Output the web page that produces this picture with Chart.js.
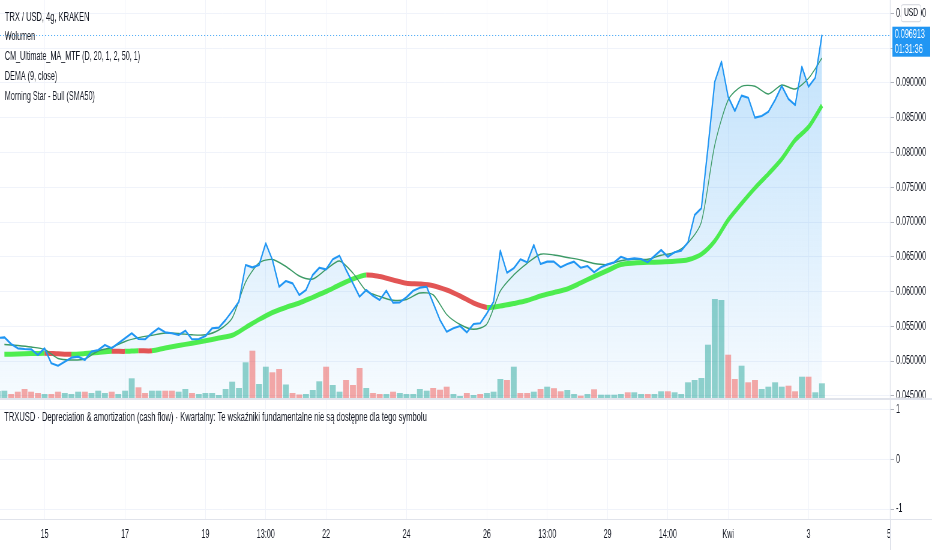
<!DOCTYPE html>
<html>
<head>
<meta charset="utf-8">
<script src="https://cdn.jsdelivr.net/npm/chart.js@4.4.1/dist/chart.umd.min.js"></script>
<style>
  html, body { margin: 0; padding: 0; background: #fff; overflow: hidden; }
  #wrap { position: relative; width: 932px; height: 550px; }
  canvas { position: absolute; left: 0; display: block; }
  .sep { position: absolute; background: #e0e3eb; }
</style>
</head>
<body>
<div id="wrap">
  <canvas id="pricePane" width="1553" height="400" style="top:0;width:932px;height:400px"></canvas>
  <canvas id="lowerPane" width="1553" height="150" style="top:400px;width:932px;height:150px"></canvas>
  <div class="sep" style="left:0;top:398px;width:932px;height:2px"></div>
  <div class="sep" style="left:0;top:519px;width:932px;height:1px"></div>
  <div class="sep" style="left:890px;top:519px;width:1px;height:31px"></div>
</div>
<script>
// 4h candles, index 0 = 13 Mar 21:00, one step = 4 hours
const closes = [
  0.05333, 0.05343, 0.05247, 0.05185, 0.05175, 0.05171, 0.05089, 0.05185, 0.04970, 0.04935,
  0.04993, 0.05050, 0.05065, 0.05017, 0.05137, 0.05161, 0.05233, 0.05185, 0.05257, 0.05329,
  0.05401, 0.05319, 0.05315, 0.05401, 0.05473, 0.05415, 0.05401, 0.05376, 0.05438, 0.05315,
  0.05319, 0.05362, 0.05473, 0.05481, 0.05592, 0.05721, 0.05855, 0.06382, 0.06349, 0.06382,
  0.06694, 0.06454, 0.06070, 0.06152, 0.06119, 0.05951, 0.06023, 0.06239, 0.06343, 0.06320,
  0.06464, 0.06516, 0.06310, 0.06119, 0.05927, 0.06023, 0.05941, 0.05879, 0.06013, 0.05841,
  0.05846, 0.05918, 0.06013, 0.06056, 0.06070, 0.05832, 0.05592, 0.05424, 0.05473, 0.05506,
  0.05415, 0.05534, 0.05545, 0.05688, 0.05855, 0.06588, 0.06272, 0.06335, 0.06464, 0.06421,
  0.06670, 0.06397, 0.06430, 0.06430, 0.06349, 0.06397, 0.06430, 0.06343, 0.06368, 0.06277,
  0.06349, 0.06392, 0.06421, 0.06501, 0.06464, 0.06478, 0.06468, 0.06421, 0.06512, 0.06598,
  0.06501, 0.06565, 0.06588, 0.06708, 0.07101, 0.07197, 0.08082, 0.09016, 0.09303, 0.08800,
  0.08595, 0.08815, 0.08786, 0.08499, 0.08523, 0.08585, 0.08753, 0.08954, 0.08767, 0.08681,
  0.09231, 0.08944, 0.09073, 0.096913
];

// volume (estimated, arbitrary units) and candle direction u = up, d = down
const volumes = [
  7, 7.3, 4, 6.3, 9, 6.3, 5, 4, 4, 6.3,
  5, 4, 6.3, 6.3, 5, 7.3, 5, 6.3, 4, 7.3,
  19.7, 10.7, 5, 7.3, 7.3, 7.3, 7.3, 6.3, 9, 5,
  4, 5, 5, 3, 9, 16.3, 10, 35.7, 47.3, 14,
  31.3, 25.7, 29, 13.5, 5, 3.5, 4, 8, 16.7, 31.3,
  13, 6.3, 18, 13, 30, 10, 5, 4, 4, 6.3,
  5, 4, 4, 9, 7.3, 10, 8.3, 11.3, 4, 2,
  5, 3, 4, 5, 6.3, 19, 18, 31.3, 5, 5,
  6.3, 9, 11.3, 9.8, 6.7, 8, 4, 2.3, 4, 8.7,
  3.3, 3.3, 3.3, 4, 5.7, 5.7, 4, 4, 4, 6.7,
  6.7, 5.7, 4, 15.7, 18, 20, 53.3, 99, 98, 43.3,
  19, 32.3, 15.7, 18, 9, 11.3, 15.7, 11.3, 12.3, 6.7,
  21.3, 21.3, 5.7, 14.7
];
const volDirs = ("uudddddudd" + "uuuduuuduu" + "udduudduud" + "uuuuuuuudu" + "uddudduuud" +
                 "uuddduddud" + "uuuuuddduu" + "duduuududd" + "ududduudud" + "uuuuduuduu" +
                 "duuuuuuuud" + "dudduuuudd" + "uduu").split("");

// DEMA (9, close) and CM Ultimate MA, read every second candle (index 1, 3, 5 ...)
const demaVals = [
  0.05240, 0.05226, 0.05204, 0.05168, 0.05039, 0.05017, 0.05032, 0.05147, 0.05197, 0.05283,
  0.05338, 0.05372, 0.05405, 0.05398, 0.05379, 0.05379, 0.05448, 0.05621, 0.06138, 0.06411,
  0.06461, 0.06361, 0.06224, 0.06181, 0.06318, 0.06440, 0.06267, 0.06009, 0.05930, 0.05875,
  0.05887, 0.05980, 0.05951, 0.05671, 0.05527, 0.05458, 0.05534, 0.06009, 0.06239, 0.06407,
  0.06537, 0.06526, 0.06490, 0.06454, 0.06404, 0.06389, 0.06444, 0.06464, 0.06464, 0.06522,
  0.06562, 0.06698, 0.07000, 0.08106, 0.08753, 0.08950, 0.08950, 0.08839, 0.08968, 0.08911,
  0.09065, 0.09356
];
const maVals = [
  0.05099, 0.05103, 0.05109, 0.05115, 0.05106, 0.05099, 0.05109, 0.05125, 0.05142, 0.05141,
  0.05151, 0.05149, 0.05190, 0.05226, 0.05257, 0.05293, 0.05333, 0.05372, 0.05484, 0.05599,
  0.05700, 0.05772, 0.05836, 0.05918, 0.06001, 0.06095, 0.06181, 0.06239, 0.06217, 0.06167,
  0.06119, 0.06109, 0.06085, 0.06023, 0.05937, 0.05836, 0.05773, 0.05793, 0.05829, 0.05872,
  0.05937, 0.05987, 0.06037, 0.06124, 0.06217, 0.06303, 0.06389, 0.06411, 0.06421, 0.06425,
  0.06435, 0.06457, 0.06536, 0.06727, 0.07029, 0.07266, 0.07489, 0.07690, 0.07905, 0.08178,
  0.08365, 0.08674
];

const lastPrice = 0.096913;
const countdown = "01:31:36";

const priceTicks = [0.045, 0.050, 0.055, 0.060, 0.065, 0.070, 0.075, 0.080, 0.085, 0.090, 0.095, 0.100];
const paneTicks = [-1, 0, 1];
const timeTickPos = [7, 19, 31, 40, 49, 61, 73, 82, 91, 100, 109, 121, 133];
const timeTickLabels = ["15", "17", "19", "13:00", "22", "24", "26", "13:00", "29", "14:00", "Kwi", "3", "5"];

const legendLines = [
  "TRX / USD, 4g, KRAKEN",
  "Wolumen",
  "CM_Ultimate_MA_MTF (D, 20, 1, 2, 50, 1)",
  "DEMA (9, close)",
  "Morning Star - Bull (SMA50)"
];
const lowerPaneText = "TRXUSD · Depreciation & amortization (cash flow) · Kwartalny: Te wskaźniki fundamentalne nie są dostępne dla tego symbolu";

// ---- styling ----
const FONT = "'Liberation Sans', Arial, sans-serif";
const TEXT = "#131722";
const GRID = "#f0f3fa";
const AXIS = "#e0e3eb";
const BLUE = "#2196f3";
const MA_UP = "rgba(60,235,60,0.9)";
const MA_DOWN = "#e25555";
const X_MIN = 0.345, X_MAX = 133.15;
const AXIS_W = 70;

const closePts = closes.map((v, k) => ({ x: k, y: v }));
const volPts = volumes.map((v, k) => ({ x: k, y: v }));
const demaPts = demaVals.map((v, i) => ({ x: 2 * i + 1, y: v }));
const maPts = maVals.map((v, i) => ({ x: 2 * i + 1, y: v }));

const noPad = s => { s.paddingTop = 0; s.paddingBottom = 0; s.paddingLeft = 0; s.paddingRight = 0; };

const timeAxis = (showLabels) => ({
  type: "linear",
  min: X_MIN,
  max: X_MAX,
  offset: false,
  afterBuildTicks: s => { s.ticks = timeTickPos.map(v => ({ value: v })); },
  ticks: {
    display: showLabels,
    autoSkip: false,
    maxRotation: 0,
    padding: 8,
    color: TEXT,
    font: { family: FONT, size: 12 },
    callback: v => timeTickLabels[timeTickPos.indexOf(v)]
  },
  grid: { color: GRID, drawTicks: false, offset: false },
  border: { display: false },
  afterFit: s => { s.height = showLabels ? 31 : 2; noPad(s); }
});

const priceAxis = (ticks, fmt, min, max) => ({
  position: "right",
  min: min,
  max: max,
  afterBuildTicks: s => { s.ticks = ticks.map(v => ({ value: v })); },
  afterFit: s => { s.width = AXIS_W; noPad(s); },
  ticks: {
    padding: 3,
    crossAlign: "near",
    color: TEXT,
    font: { family: FONT, size: 12 },
    callback: fmt
  },
  grid: { color: GRID, tickColor: "#b2b5be", tickLength: 7 },
  border: { display: true, color: AXIS }
});

const topOverlay = {
  id: "topOverlay",
  afterDatasetsDraw(chart) {
    const { ctx, chartArea: a, scales: { y } } = chart;
    const py = Math.round(y.getPixelForValue(lastPrice)) + 0.5;
    ctx.save();
    ctx.strokeStyle = "rgba(33,150,243,0.75)";
    ctx.lineWidth = 1;
    ctx.setLineDash([2, 3]);
    ctx.beginPath();
    ctx.moveTo(a.left, py);
    ctx.lineTo(a.right, py);
    ctx.stroke();
    ctx.restore();
  },
  afterDraw(chart) {
    const { ctx, chartArea: a, scales: { y } } = chart;
    const py = y.getPixelForValue(lastPrice);
    ctx.save();
    ctx.textAlign = "left";
    ctx.textBaseline = "middle";
    ctx.fillStyle = TEXT;
    legendLines.forEach((t, i) => {
      ctx.font = (i === 0 ? "12.5px " : "12px ") + FONT;
      ctx.fillText(t, 8, i === 0 ? 18 : 36.5 + (i - 1) * 20);
    });

    // USD badge over the top price label
    const by = y.getPixelForValue(0.1);
    ctx.fillStyle = "#fff";
    ctx.strokeStyle = "#d1d4dc";
    ctx.lineWidth = 1;
    ctx.beginPath();
    ctx.roundRect(a.right + 18.5, by - 8.5, 33, 17, 3);
    ctx.fill();
    ctx.stroke();
    ctx.fillStyle = TEXT;
    ctx.font = "11px " + FONT;
    ctx.textAlign = "center";
    ctx.fillText("USD", a.right + 35, by);

    // last price label with candle countdown
    ctx.fillStyle = BLUE;
    ctx.fillRect(a.right + 4, py - 8, 63, 30);
    ctx.fillStyle = "#fff";
    ctx.font = "12px " + FONT;
    ctx.textAlign = "left";
    ctx.fillText(lastPrice.toFixed(6), a.right + 8, py);
    ctx.fillText(countdown, a.right + 8, py + 15);
    ctx.restore();
  }
};

const lowerOverlay = {
  id: "lowerOverlay",
  afterDraw(chart) {
    const ctx = chart.ctx;
    ctx.save();
    ctx.fillStyle = TEXT;
    ctx.font = "12.6px " + FONT;
    ctx.textAlign = "left";
    ctx.textBaseline = "middle";
    ctx.fillText(lowerPaneText, 7, 18);
    ctx.restore();
  }
};

new Chart(document.getElementById("pricePane"), {
  data: {
    datasets: [
      {
        type: "bar",
        data: volPts,
        yAxisID: "yv",
        backgroundColor: volDirs.map(d => d === "u" ? "rgba(38,166,154,0.5)" : "rgba(239,83,80,0.5)"),
        categoryPercentage: 1,
        barPercentage: 0.88,
        order: 4
      },
      {
        type: "line",
        data: maPts,
        borderColor: MA_UP,
        segment: { borderColor: c => c.p1.parsed.y < c.p0.parsed.y ? MA_DOWN : MA_UP },
        borderWidth: 5,
        tension: 0.3,
        pointRadius: 0,
        order: 3
      },
      {
        type: "line",
        data: demaPts,
        borderColor: "#3c9a66",
        borderWidth: 1.4,
        tension: 0.25,
        pointRadius: 0,
        order: 2
      },
      {
        type: "line",
        data: closePts,
        borderColor: BLUE,
        borderWidth: 2.2,
        borderJoinStyle: "round",
        tension: 0,
        pointRadius: 0,
        fill: "start",
        backgroundColor: c => {
          const a = c.chart.chartArea;
          if (!a) return "rgba(33,150,243,0.15)";
          const g = c.chart.ctx.createLinearGradient(0, a.top, 0, a.bottom);
          g.addColorStop(0, "rgba(33,150,243,0.30)");
          g.addColorStop(1, "rgba(33,150,243,0.04)");
          return g;
        },
        order: 1
      }
    ]
  },
  options: {
    responsive: false,
    devicePixelRatio: 1,
    animation: false,
    events: [],
    layout: { padding: 0, autoPadding: false },
    plugins: { legend: { display: false }, tooltip: { enabled: false }, filler: { drawTime: "beforeDatasetsDraw" } },
    scales: {
      x: timeAxis(false),
      y: priceAxis(priceTicks, v => v.toFixed(6), 0.04471, 0.1019),
      yv: { display: false, min: 0, max: 398 }
    }
  },
  plugins: [topOverlay]
});

new Chart(document.getElementById("lowerPane"), {
  type: "line",
  data: { datasets: [{ data: [], pointRadius: 0 }] },
  options: {
    responsive: false,
    devicePixelRatio: 1,
    animation: false,
    events: [],
    layout: { padding: 0, autoPadding: false },
    plugins: { legend: { display: false }, tooltip: { enabled: false } },
    scales: {
      x: timeAxis(true),
      y: priceAxis(paneTicks, v => String(v), -1.2, 1.2)
    }
  },
  plugins: [lowerOverlay]
});
</script>
</body>
</html>
